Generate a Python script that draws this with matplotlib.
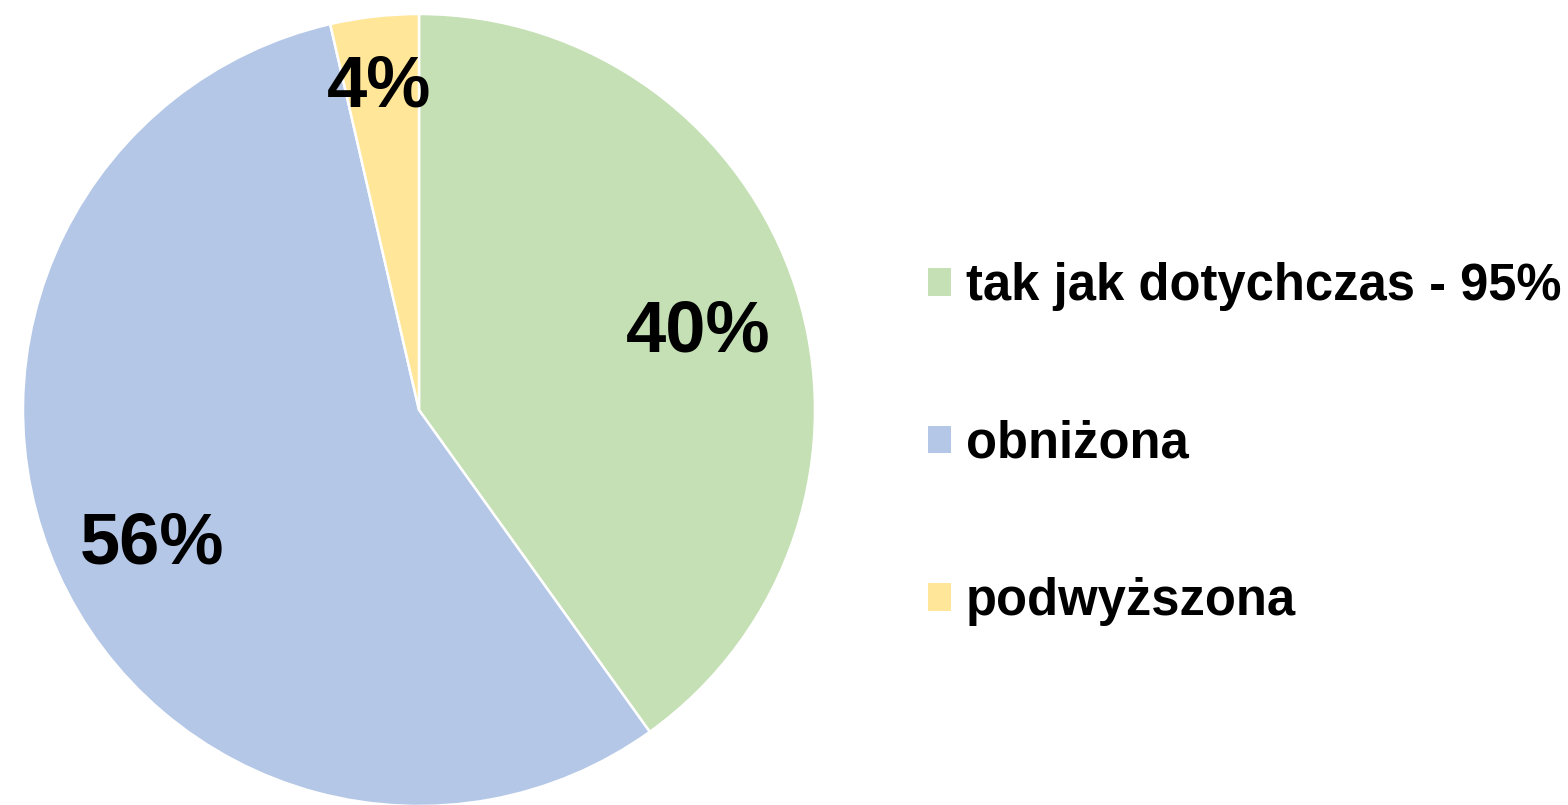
import matplotlib
matplotlib.use("Agg")
import matplotlib.pyplot as plt
from matplotlib.patches import Patch

categories = ["tak jak dotychczas - 95%", "obniżona", "podwyższona"]
values = [40.1, 56.3, 3.6]
labels = ["40%", "56%", "4%"]
colors = ["#C5E0B4", "#B4C7E7", "#FFE699"]

plt.rcParams['font.family'] = ['Liberation Sans', 'DejaVu Sans']

W, H = 1568, 805
fig = plt.figure(figsize=(W / 100, H / 100), dpi=100)
cx, cy, r = 419, 410, 396
ax = fig.add_axes([(cx - r) / W, (H - cy - r) / H, 2 * r / W, 2 * r / H])
wedges, _ = ax.pie(values, colors=colors, startangle=90, counterclock=False,
                   radius=1, wedgeprops=dict(edgecolor="white", linewidth=1.8))
ax.set_xlim(-1, 1)
ax.set_ylim(-1, 1)
ax.set_aspect("auto")
ax.axis("off")

label_pos = [(0.705, 0.195), (-0.675, -0.34), (-0.10, 0.815)]
for (x, y), t in zip(label_pos, labels):
    ax.text(x, y, t, ha="center", va="center", fontsize=52, fontweight="bold", color="black")

handles = [Patch(facecolor=c, edgecolor="none") for c in colors]
leg = fig.legend(handles, categories, loc="center left",
                 bbox_to_anchor=(928 / W, 1 - 444 / H),
                 frameon=False, prop=dict(size=36.5, weight="bold"),
                 handlelength=0.45, handleheight=0.45, handletextpad=0.3,
                 labelspacing=2.14, borderaxespad=0, borderpad=0)

fig.savefig("out.png", dpi=100, facecolor="white")
